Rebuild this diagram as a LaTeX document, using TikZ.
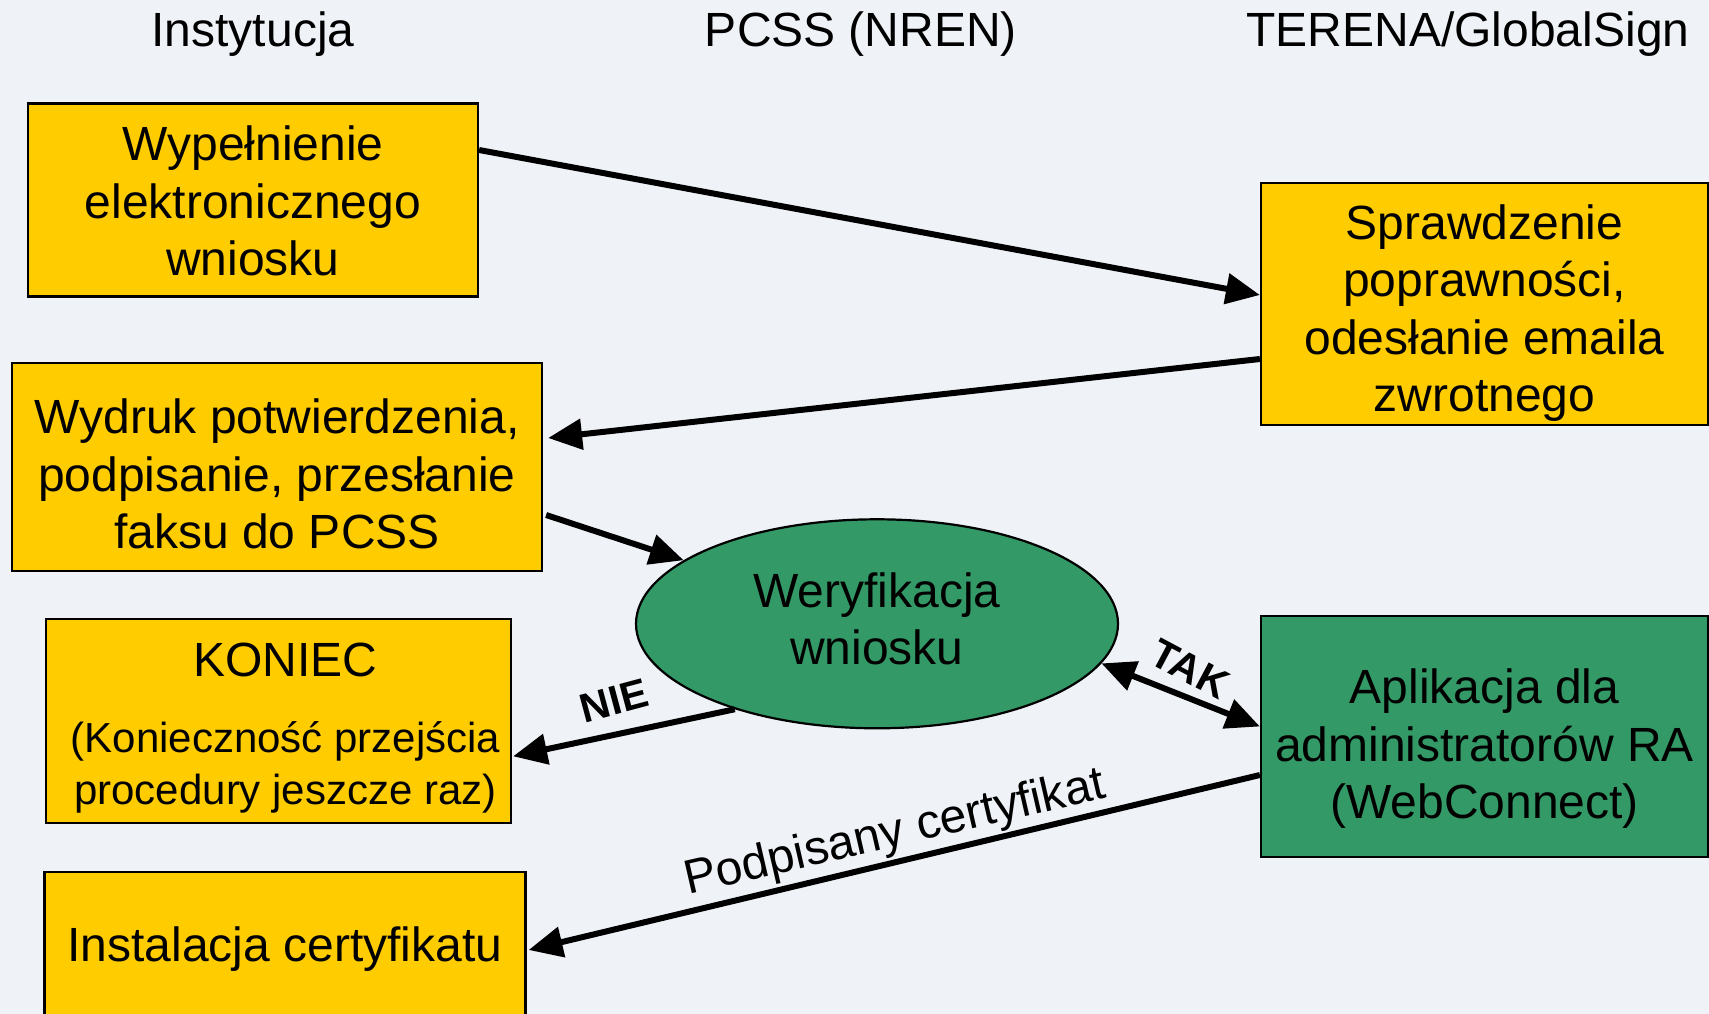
\documentclass[tikz,border=0pt]{standalone}
\usepackage{fontspec}
\setmainfont{Liberation Sans}
\usetikzlibrary{arrows.meta,shapes.geometric}
\definecolor{bgc}{RGB}{239,243,248}
\definecolor{yel}{RGB}{255,204,0}
\definecolor{grn}{RGB}{51,153,102}
\tikzset{
 box/.style={draw=black, line width=2.2pt, inner sep=0pt},
 ybox/.style={box, fill=yel},
 gbox/.style={box, fill=grn},
 txt/.style={inner sep=0pt, align=center, font=\fontsize{48pt}{57.5pt}\selectfont},
 smalltxt/.style={inner sep=0pt, align=center, font=\fontsize{42pt}{52pt}\selectfont},
 lbl/.style={inner sep=0pt, font=\fontsize{41pt}{46pt}\selectfont\bfseries},
 conn/.style={line width=6pt, -{Triangle[length=34pt,width=30pt]}},
 dconn/.style={line width=6pt, {Triangle[length=34pt,width=30pt]}-{Triangle[length=34pt,width=30pt]}},
}
\begin{document}
\begin{tikzpicture}[x=1pt,y=-1pt]
\path[use as bounding box, fill=bgc] (0,0) rectangle (1709,1014);

% headers
\node[txt, anchor=base] (h1) at (253,47) {Instytucja};
\node[txt, anchor=base] (h2) at (861,47) {PCSS (NREN)};
\node[txt, anchor=base] (h3) at (1468,47) {TERENA/GlobalSign};

% boxes
\node[ybox, minimum width=450pt, minimum height=193pt] (b1) at (253,200) {};
\node[txt] (t1) at (253,201) {Wypełnienie\\elektronicznego\\wniosku};

\node[ybox, minimum width=447pt, minimum height=242pt] (b2) at (1484.5,304) {};
\node[txt] (t2) at (1484.5,313) {Sprawdzenie\\poprawności,\\odesłanie emaila\\zwrotnego};

\node[ybox, minimum width=530pt, minimum height=208pt] (b3) at (277,467) {};
\node[txt] (t3) at (277,474) {Wydruk potwierdzenia,\\podpisanie, przesłanie\\faksu do PCSS};

\node[ellipse, draw=black, line width=2.2pt, fill=grn, minimum width=482pt, minimum height=209pt, inner sep=0pt] (ell) at (877,623.8) {};
\node[txt] (t4) at (877,619) {Weryfikacja\\wniosku};

\node[ybox, minimum width=465pt, minimum height=204pt] (b4) at (278.5,721.3) {};
\node[txt, anchor=base] (t5) at (285.5,676) {KONIEC};
\node[smalltxt] (t6) at (285.5,767) {(Konieczność przejścia\\procedury jeszcze raz)};

\node[ybox, minimum width=481pt, minimum height=152pt] (b5) at (285,948) {};
\node[txt, anchor=base] (t7) at (285,961) {Instalacja certyfikatu};

\node[gbox, minimum width=447pt, minimum height=241pt] (b6) at (1484.5,736.5) {};
\node[txt] (t8) at (1484.5,748.6) {Aplikacja dla\\administratorów RA\\(WebConnect)};

% connectors
\draw[conn] ([yshift=50pt]b1.east) -- ([yshift=9pt]b2.west);
\draw[conn] ([yshift=-55pt]b2.west) -- ([xshift=5pt,yshift=29pt]b3.east);
\draw[conn] ([xshift=3pt,yshift=-48pt]b3.east) -- (ell);
\draw[conn] (ell.211) -- ([xshift=1pt,yshift=-35pt]b4.east);
\draw[dconn] (ell.-10) -- ([yshift=10pt]b6.west);
\draw[conn] ([yshift=-38.5pt]b6.west) -- ([xshift=2pt,yshift=-2pt]b5.east);

% labels
\node[lbl, rotate=15] (nie) at (614,701) {NIE};
\node[lbl, rotate=-28] (tak) at (1190,669) {TAK};
\node[txt, anchor=base, rotate=13] (pc) at (898,846) {Podpisany certyfikat};
\end{tikzpicture}
\end{document}
